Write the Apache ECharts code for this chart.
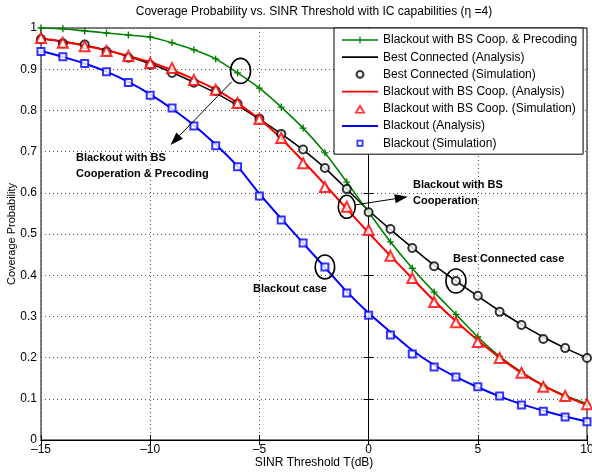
<!DOCTYPE html>
<html><head><meta charset="utf-8">
<script src="https://cdn.jsdelivr.net/npm/echarts@6/dist/echarts.min.js"></script>
<style>html,body{margin:0;padding:0;background:#fff}#c{width:592px;height:474px}</style>
</head><body><div id="c"></div>
<script>
const sinrDb = [-15,-14,-13,-12,-11,-10,-9,-8,-7,-6,-5,-4,-3,-2,-1,0,1,2,3,4,5,6,7,8,9,10];
const precoding = [1.000,0.998,0.993,0.988,0.983,0.978,0.964,0.947,0.925,0.891,0.854,0.808,0.757,0.697,0.626,0.553,0.481,0.417,0.359,0.305,0.250,0.203,0.165,0.133,0.108,0.088];
const bestConnAnalysis = [0.974,0.967,0.958,0.946,0.931,0.913,0.892,0.868,0.842,0.812,0.779,0.743,0.704,0.660,0.609,0.557,0.511,0.467,0.424,0.386,0.349,0.313,0.280,0.250,0.223,0.199];
const bestConnSim = [0.973,0.963,0.960,0.943,0.928,0.910,0.891,0.867,0.847,0.816,0.780,0.743,0.705,0.660,0.609,0.553,0.512,0.466,0.422,0.386,0.350,0.311,0.279,0.245,0.223,0.199];
const coopAnalysis = [0.975,0.967,0.957,0.946,0.932,0.917,0.898,0.876,0.851,0.818,0.779,0.732,0.677,0.620,0.561,0.503,0.447,0.392,0.338,0.288,0.242,0.200,0.163,0.132,0.106,0.085];
const coopSim = [0.976,0.964,0.956,0.944,0.932,0.915,0.903,0.874,0.850,0.818,0.779,0.733,0.672,0.614,0.566,0.510,0.447,0.393,0.335,0.286,0.238,0.199,0.163,0.129,0.107,0.087];
const blackoutAnalysis = [0.944,0.930,0.914,0.894,0.869,0.839,0.804,0.764,0.717,0.664,0.598,0.537,0.478,0.419,0.360,0.308,0.262,0.218,0.182,0.153,0.128,0.106,0.087,0.071,0.057,0.045];
const blackoutSim = [0.943,0.930,0.914,0.894,0.868,0.837,0.806,0.762,0.714,0.663,0.592,0.534,0.478,0.420,0.357,0.303,0.255,0.209,0.177,0.153,0.129,0.107,0.085,0.070,0.056,0.044];
const xTickStep = 5;
const yTickStep = 0.1;
const seriesNames = [
  'Blackout with BS Coop. & Precoding',
  'Best Connected (Analysis)',
  'Best Connected (Simulation)',
  'Blackout with BS Coop. (Analysis)',
  'Blackout with BS Coop. (Simulation)',
  'Blackout (Analysis)',
  'Blackout (Simulation)'
];

const FONT = 'Liberation Sans, Arial, Helvetica, sans-serif';
const pairs = arr => sinrDb.map((x, i) => [x, arr[i]]);
const plusPath = 'path://M4,0H6V4H10V6H6V10H4V6H0V4H4Z';

// legend icons in a 36x10 box (tiny corner specks fix the bounding box)
const SPECKS = 'M0,0h0.01v0.01h-0.01Z M35.99,9.99h0.01v0.01h-0.01Z ';
const iconLine = 'path://' + SPECKS + 'M0,4.1H36V5.9H0Z';
const iconLinePlus = 'path://' + SPECKS + 'M0,4.3H36V5.7H0Z M17.4,1.5H18.6V8.5H17.4Z M14.5,4.2H21.5V5.8H14.5Z';
const iconCircle = 'path://' + SPECKS + 'M13.6,5A4.4,4.4 0 1,1 22.4,5A4.4,4.4 0 1,1 13.6,5Z M15.6,5A2.4,2.4 0 1,0 20.4,5A2.4,2.4 0 1,0 15.6,5Z';
const iconTriangle = 'path://' + SPECKS + 'M18,0.3L23.6,9.6L12.4,9.6Z M18,3.9L15.4,8.2L20.6,8.2Z';
const iconSquare = 'path://' + SPECKS + 'M14.5,1.5H21.5V8.5H14.5Z M16.3,3.3V6.7H19.7V3.3Z';
const legendIcons = [iconLinePlus, iconLine, iconCircle, iconLine, iconTriangle, iconLine, iconSquare];

const chart = echarts.init(document.getElementById('c'), null, {renderer: 'canvas'});

const axisCommon = {
  type: 'value',
  axisLine: {show: true, lineStyle: {color: '#000', width: 1}},
  axisTick: {show: true, inside: true, length: 5, lineStyle: {color: '#000'}},
};

const option = {
  animation: false,
  backgroundColor: '#fff',
  textStyle: {fontFamily: FONT},
  grid: {left: 41, right: 5, top: 28, bottom: 34, containLabel: false, outerBoundsMode: 'none',
    show: true, borderColor: '#000', borderWidth: 1, backgroundColor: 'transparent'},
  legend: {
    orient: 'vertical', left: 334, top: 28,
    padding: [5, 6, 4, 8], itemGap: 3.2, itemWidth: 36, itemHeight: 10,
    backgroundColor: '#fff', borderColor: '#000', borderWidth: 1,
    itemStyle: {borderWidth: 0},
    textStyle: {fontSize: 12, color: '#000', lineHeight: 14, fontFamily: FONT},
    data: seriesNames.map((n, i) => ({name: n, icon: legendIcons[i]}))
  },
  xAxis: [
    Object.assign({}, axisCommon, {
      min: -15, max: 10, interval: xTickStep, position: 'bottom',
      axisLabel: {color: '#000', fontSize: 12, margin: 4, fontFamily: FONT,
        formatter: v => v < 0 ? '\u2013' + Math.abs(v) : String(v)},
      splitLine: {show: true, lineStyle: {type: [1, 3], color: '#555'}},
      name: 'SINR Threshold T(dB)', nameLocation: 'middle', nameGap: 17, nameMoveOverlap: false,
      nameTextStyle: {fontSize: 12, color: '#000', fontFamily: FONT}
    }),
    Object.assign({}, axisCommon, {
      min: -15, max: 10, interval: xTickStep, position: 'top',
      axisLabel: {show: false}, splitLine: {show: false}
    })
  ],
  yAxis: [
    Object.assign({}, axisCommon, {
      min: 0, max: 1, interval: yTickStep, position: 'left',
      axisLabel: {color: '#000', fontSize: 12, margin: 4, fontFamily: FONT,
        formatter: v => String(Number(v.toFixed(1)))},
      splitLine: {show: true, lineStyle: {type: [1, 3], color: '#555'}},
      name: 'Coverage Probability', nameLocation: 'middle', nameGap: 24, nameMoveOverlap: false,
      nameTextStyle: {fontSize: 11, color: '#000', fontFamily: FONT}
    }),
    Object.assign({}, axisCommon, {
      min: 0, max: 1, interval: yTickStep, position: 'right',
      axisLabel: {show: false}, splitLine: {show: false}
    })
  ],
  series: [
    {name: seriesNames[0], type: 'line', data: pairs(precoding), smooth: 0.2,
      symbol: plusPath, symbolSize: 7, showAllSymbol: true,
      lineStyle: {color: '#008000', width: 1.6}, itemStyle: {color: '#008000'}, z: 3},
    {name: seriesNames[1], type: 'line', data: pairs(bestConnAnalysis), smooth: 0.2,
      symbol: 'none', lineStyle: {color: '#000', width: 1.6}, itemStyle: {color: '#000'}, z: 2},
    {name: seriesNames[2], type: 'scatter', data: pairs(bestConnSim),
      symbol: 'emptyCircle', symbolSize: 8, itemStyle: {color: '#000', borderWidth: 1.5}, z: 4},
    {name: seriesNames[3], type: 'line', data: pairs(coopAnalysis), smooth: 0.2,
      symbol: 'none', lineStyle: {color: '#ff0000', width: 2}, itemStyle: {color: '#ff0000'}, z: 3},
    {name: seriesNames[4], type: 'scatter', data: pairs(coopSim),
      symbol: 'emptyTriangle', symbolSize: 10, itemStyle: {color: '#ff0000', borderWidth: 1.8}, z: 5},
    {name: seriesNames[5], type: 'line', data: pairs(blackoutAnalysis), smooth: 0.2,
      symbol: 'none', lineStyle: {color: '#0000ff', width: 2}, itemStyle: {color: '#0000ff'}, z: 3},
    {name: seriesNames[6], type: 'scatter', data: pairs(blackoutSim),
      symbol: 'emptyRect', symbolSize: 7, itemStyle: {color: '#0000ff', borderWidth: 1.8}, z: 5}
  ]
};
chart.setOption(option);

// annotations anchored on data points
function px(x, y) { return chart.convertToPixel({xAxisIndex: 0, yAxisIndex: 0}, [x, y]); }
function idx(x) { return sinrDb.indexOf(x); }
function ellipse(p, rx, ry) {
  return {type: 'ellipse', shape: {cx: p[0], cy: p[1], rx: rx, ry: ry},
    style: {fill: 'none', stroke: '#000', lineWidth: 1.6}, z: 100};
}
function arrow(x1, y1, x2, y2) {
  const ang = Math.atan2(y2 - y1, x2 - x1), L = 13, W = 4.5;
  const bx = x2 - L * Math.cos(ang), by = y2 - L * Math.sin(ang);
  const nx = -Math.sin(ang), ny = Math.cos(ang);
  return [
    {type: 'line', shape: {x1: x1, y1: y1, x2: bx, y2: by}, style: {stroke: '#000', lineWidth: 1}, z: 100},
    {type: 'polygon', shape: {points: [[x2, y2], [bx + nx * W, by + ny * W], [bx - nx * W, by - ny * W]]},
      style: {fill: '#000'}, z: 100}
  ];
}
function label(x, y, t) {
  return {type: 'text', x: x, y: y, style: {text: t, font: 'bold 11px ' + FONT, fill: '#000',
    textVerticalAlign: 'middle', verticalAlign: 'middle', lineHeight: 16}, z: 100};
}
const pG = px(-6, precoding[idx(-6)]);
const pR = px(-1, coopSim[idx(-1)]);
const pK = px(4, bestConnSim[idx(4)]);
const pB = px(-2, blackoutSim[idx(-2)]);
const graphics = [
  {type: 'text', x: 314, y: 12, style: {text: 'Coverage Probability vs. SINR Threshold with IC capabilities (\u03b7 =4)',
    font: '12px ' + FONT, fill: '#000', textAlign: 'center', align: 'center', textVerticalAlign: 'middle', verticalAlign: 'middle'}, z: 100},
  ellipse([pG[0] + 3, pG[1] - 2], 10, 12.5),
  ellipse(pR, 8.5, 11.5),
  ellipse(pK, 10, 12),
  ellipse(pB, 9.7, 12),
  ...arrow(pG[0] - 6, pG[1] + 9, pG[0] - 67, pG[1] + 72),
  ...arrow(pR[0] + 9, pR[1] - 2, pR[0] + 61, pR[1] - 10),
  label(76, 166, 'Blackout with BS\nCooperation & Precoding'),
  label(413, 193, 'Blackout with BS\nCooperation'),
  label(453, 259, 'Best Connected case'),
  label(253, 289, 'Blackout case')
];
chart.setOption({graphic: {elements: graphics}});
</script>
</body></html>
